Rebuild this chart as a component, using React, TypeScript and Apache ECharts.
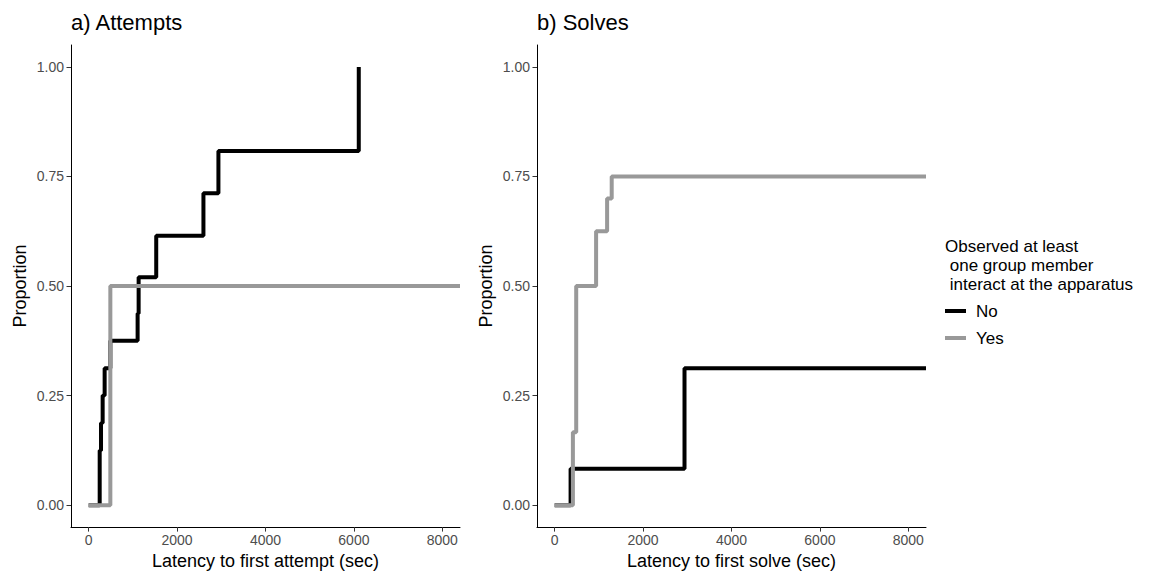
import React, { useEffect, useRef } from "react";
import * as echarts from "echarts";

const xTicks = [0, 2000, 4000, 6000, 8000];
const yTicks = [0, 0.25, 0.5, 0.75, 1];

const attemptsNoTime = [0, 249, 279, 316, 361, 490, 1107, 1130, 1528, 2596, 2935, 6110];
const attemptsNoProp = [0, 0.125, 0.1875, 0.25, 0.3125, 0.375, 0.4375, 0.52, 0.615, 0.712, 0.808, 1.0];
const attemptsYesTime = [0, 490, 8400];
const attemptsYesProp = [0, 0.5, 0.5];
const solvesNoTime = [0, 360, 2937, 8400];
const solvesNoProp = [0, 0.0833, 0.3125, 0.3125];
const solvesYesTime = [0, 412, 487, 937, 1186, 1290, 8400];
const solvesYesProp = [0, 0.1667, 0.5, 0.625, 0.7, 0.75, 0.75];

const groups = ["No", "Yes"];
const colors = ["#000000", "#999999"];
const FONT = "Liberation Sans, Arial, Helvetica, sans-serif";

const zip = (xs: number[], ys: number[]) => xs.map((x, i) => [x, ys[i]]);

export default function App() {
  const ref = useRef<HTMLDivElement>(null);
  useEffect(() => {
    if (!ref.current) return;
    const chart = echarts.init(ref.current, null, { renderer: "svg" });
    const xAxisBase = (idx: number, name: string) => ({
      type: "value" as const,
      gridIndex: idx,
      min: -400,
      max: 8400,
      name,
      nameLocation: "middle" as const,
      nameGap: 24,
      nameTextStyle: { fontSize: 18, color: "#000", fontFamily: FONT },
      splitLine: { show: false },
      axisLine: { onZero: false, lineStyle: { color: "#000", width: 1 } },
      axisTick: { length: 4.5, customValues: xTicks, lineStyle: { color: "#333" } },
      axisLabel: {
        customValues: xTicks,
        color: "#4d4d4d",
        fontSize: 14,
        margin: 6,
        fontFamily: FONT,
        formatter: (v: number) => String(v),
      },
    });
    const yAxisBase = (idx: number) => ({
      type: "value" as const,
      gridIndex: idx,
      min: -0.05,
      max: 1.05,
      name: "Proportion",
      nameLocation: "middle" as const,
      nameGap: 42,
      nameRotate: 90,
      nameTextStyle: { fontSize: 18, color: "#000", fontFamily: FONT },
      splitLine: { show: false },
      axisLine: { onZero: false, lineStyle: { color: "#000", width: 1 } },
      axisTick: { length: 4.5, customValues: yTicks, lineStyle: { color: "#333" } },
      axisLabel: {
        customValues: yTicks,
        color: "#4d4d4d",
        fontSize: 14,
        margin: 7,
        fontFamily: FONT,
        formatter: (v: number) => v.toFixed(2),
      },
    });
    const line = (name: string, color: string, idx: number, data: number[][]) => ({
      type: "line" as const,
      name,
      xAxisIndex: idx,
      yAxisIndex: idx,
      data,
      step: "end" as const,
      showSymbol: false,
      symbol: "none",
      itemStyle: { color },
      lineStyle: { color, width: 4 },
    });
    chart.setOption({
      animation: false,
      grid: [
        { left: 71, top: 45, width: 389, height: 485 },
        { left: 537, top: 45, width: 389, height: 485 },
      ],
      xAxis: [xAxisBase(0, "Latency to first attempt (sec)"), xAxisBase(1, "Latency to first solve (sec)")],
      yAxis: [yAxisBase(0), yAxisBase(1)],
      legend: {
        data: groups,
        orient: "vertical",
        left: 945,
        top: 301,
        padding: 0,
        icon: "rect",
        itemWidth: 21,
        itemHeight: 4,
        itemGap: 7,
        textStyle: { fontSize: 17, color: "#000", lineHeight: 20, fontFamily: FONT, padding: [0, 0, 0, 5] },
      },
      graphic: [
        { type: "text", left: 71, top: 11, style: { text: "a) Attempts", fontSize: 22, fill: "#000", fontFamily: FONT } },
        { type: "text", left: 537, top: 11, style: { text: "b) Solves", fontSize: 22, fill: "#000", fontFamily: FONT } },
        {
          type: "text",
          left: 945,
          top: 237,
          style: {
            text: "Observed at least\n one group member\n interact at the apparatus",
            fontSize: 17,
            lineHeight: 19,
            fill: "#000",
            fontFamily: FONT,
          },
        },
      ],
      series: [
        line(groups[0], colors[0], 0, zip(attemptsNoTime, attemptsNoProp)),
        line(groups[1], colors[1], 0, zip(attemptsYesTime, attemptsYesProp)),
        line(groups[0], colors[0], 1, zip(solvesNoTime, solvesNoProp)),
        line(groups[1], colors[1], 1, zip(solvesYesTime, solvesYesProp)),
      ],
    });
    return () => chart.dispose();
  }, []);
  return <div ref={ref} style={{ position: "absolute", left: 0, top: 0, width: 1150, height: 575 }} />;
}
